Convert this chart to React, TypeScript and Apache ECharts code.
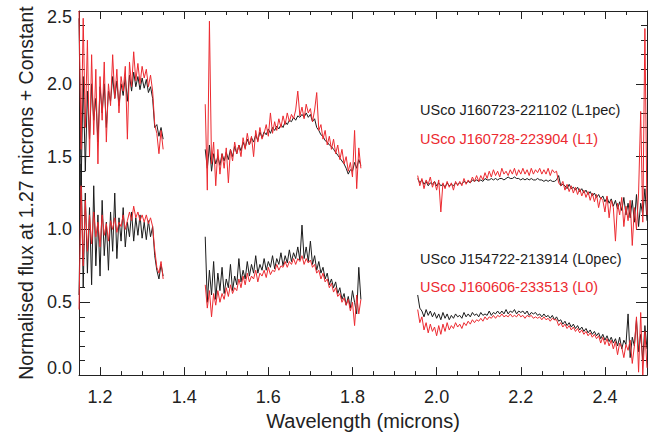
import React, { useEffect, useRef } from "react";
import * as echarts from "echarts";

// Wavelength grids (microns): each band starts at a given wavelength, sampled every STEP
const STEP = 0.005;
const J_START = 1.15;
const H_START = 1.45;
const K_START = 1.955;

const X_MAJOR_TICKS = [1.2, 1.4, 1.6, 1.8, 2.0, 2.2, 2.4];

const NAME_L1PEC = "USco J160723-221102 (L1pec)";
const NAME_L1 = "USco J160728-223904 (L1)";
const NAME_L0PEC = "USco J154722-213914 (L0pec)";
const NAME_L0 = "USco J160606-233513 (L0)";

// Upper pair: L1pec (black), L1 (red)
const l1pecJ = [2.45, 1.30, 2.05, 1.40, 1.95, 1.62, 2.00, 1.75, 1.90, 1.60, 1.98, 1.80, 2.00, 1.70, 1.95, 1.88, 2.05, 1.90, 2.02, 1.85, 2.00, 1.92, 2.05, 1.88, 2.06, 1.95, 2.08, 1.98, 2.05, 1.96, 2.04, 1.97, 2.03, 1.94, 1.98, 1.90, 1.70, 1.72, 1.64, 1.70, 1.62];
const l1J = [2.50, 1.55, 2.45, 1.70, 2.30, 1.50, 2.20, 1.65, 2.10, 1.45, 2.05, 1.75, 2.15, 1.60, 2.00, 1.85, 2.20, 1.90, 2.10, 1.80, 2.05, 1.95, 2.12, 1.62, 2.15, 1.98, 2.22, 2.02, 2.14, 2.00, 2.12, 2.04, 2.10, 1.98, 2.06, 1.95, 1.72, 1.66, 1.52, 1.68, 1.55];
const l1pecH = [1.55, 1.42, 1.58, 1.40, 1.52, 1.45, 1.50, 1.44, 1.52, 1.47, 1.53, 1.48, 1.55, 1.50, 1.57, 1.52, 1.58, 1.54, 1.60, 1.56, 1.62, 1.58, 1.63, 1.60, 1.65, 1.61, 1.67, 1.63, 1.67, 1.65, 1.69, 1.66, 1.70, 1.68, 1.71, 1.69, 1.72, 1.70, 1.74, 1.72, 1.75, 1.74, 1.77, 1.75, 1.78, 1.77, 1.79, 1.77, 1.80, 1.77, 1.79, 1.74, 1.76, 1.70, 1.68, 1.65, 1.64, 1.61, 1.60, 1.58, 1.57, 1.55, 1.53, 1.51, 1.49, 1.47, 1.45, 1.42, 1.38, 1.41, 1.40, 1.46, 1.42, 1.48, 1.44];
const l1H = [1.86, 1.27, 2.43, 1.45, 1.60, 1.30, 1.55, 1.38, 1.52, 1.42, 1.56, 1.32, 1.55, 1.47, 1.60, 1.52, 1.58, 1.50, 1.63, 1.55, 1.66, 1.58, 1.64, 1.50, 1.68, 1.60, 1.70, 1.62, 1.66, 1.72, 1.64, 1.80, 1.66, 1.74, 1.68, 1.76, 1.70, 1.78, 1.72, 1.80, 1.74, 1.79, 1.76, 1.82, 1.95, 1.78, 1.84, 1.76, 1.86, 1.80, 1.83, 1.74, 1.82, 1.94, 1.68, 1.72, 1.62, 1.68, 1.58, 1.64, 1.55, 1.62, 1.52, 1.58, 1.48, 1.55, 1.45, 1.50, 1.40, 1.46, 1.36, 1.68, 1.28, 1.56, 1.42];
const l1pecK = [1.35, 1.32, 1.34, 1.31, 1.33, 1.30, 1.32, 1.31, 1.33, 1.30, 1.32, 1.30, 1.31, 1.29, 1.32, 1.30, 1.31, 1.30, 1.32, 1.31, 1.32, 1.31, 1.33, 1.32, 1.33, 1.32, 1.34, 1.33, 1.34, 1.33, 1.34, 1.33, 1.35, 1.34, 1.34, 1.35, 1.34, 1.35, 1.34, 1.35, 1.35, 1.34, 1.35, 1.36, 1.35, 1.35, 1.36, 1.35, 1.35, 1.34, 1.35, 1.34, 1.35, 1.34, 1.35, 1.34, 1.34, 1.35, 1.34, 1.34, 1.33, 1.34, 1.33, 1.34, 1.33, 1.33, 1.34, 1.37, 1.30, 1.31, 1.30, 1.28, 1.31, 1.28, 1.29, 1.27, 1.29, 1.26, 1.28, 1.25, 1.27, 1.24, 1.26, 1.23, 1.25, 1.22, 1.24, 1.21, 1.23, 1.19, 1.22, 1.18, 1.21, 1.16, 1.20, 1.14, 1.19, 1.13, 1.22, 1.10, 1.18, 1.08, 1.20, 1.05, 1.24, 1.02, 1.18, 1.10, 1.28, 1.06];
const l1K = [1.37, 1.30, 1.35, 1.28, 1.34, 1.31, 1.36, 1.29, 1.33, 1.27, 1.34, 1.12, 1.32, 1.28, 1.33, 1.29, 1.32, 1.27, 1.33, 1.30, 1.33, 1.30, 1.35, 1.31, 1.34, 1.32, 1.36, 1.33, 1.37, 1.33, 1.37, 1.34, 1.39, 1.35, 1.40, 1.36, 1.41, 1.37, 1.40, 1.36, 1.42, 1.38, 1.40, 1.37, 1.41, 1.38, 1.42, 1.37, 1.41, 1.38, 1.42, 1.38, 1.41, 1.37, 1.42, 1.38, 1.41, 1.39, 1.42, 1.38, 1.41, 1.38, 1.42, 1.37, 1.41, 1.39, 1.40, 1.32, 1.30, 1.33, 1.27, 1.31, 1.26, 1.30, 1.25, 1.29, 1.24, 1.28, 1.23, 1.27, 1.22, 1.26, 1.20, 1.25, 1.19, 1.24, 1.15, 1.22, 1.20, 1.12, 1.23, 1.08, 1.20, 1.15, 0.92, 1.18, 1.10, 1.22, 1.02, 1.16, 1.06, 1.20, 0.89, 1.15, 1.00, 1.25, 1.81, 1.05, 2.38, 1.10];

// Lower pair: L0pec (black), L0 (red)
const l0pecJ = [0.55, 1.45, 0.60, 1.25, 0.70, 1.15, 0.62, 1.30, 0.75, 1.10, 0.68, 1.20, 0.82, 1.05, 0.72, 1.12, 0.85, 1.25, 0.80, 1.08, 0.92, 1.15, 0.88, 1.05, 0.95, 1.12, 0.92, 1.08, 0.96, 1.10, 0.94, 1.05, 0.93, 1.06, 0.95, 1.02, 0.82, 0.72, 0.66, 0.76, 0.68];
const l0J = [0.45, 1.30, 0.75, 1.20, 0.85, 1.10, 0.90, 1.12, 0.95, 1.05, 0.88, 1.10, 0.96, 1.04, 0.92, 1.06, 1.00, 1.08, 0.98, 1.05, 1.02, 1.10, 1.00, 1.06, 1.12, 1.06, 1.16, 1.08, 1.12, 1.06, 1.10, 1.05, 1.10, 1.04, 1.08, 1.02, 0.86, 0.74, 0.70, 0.78, 0.66];
const l0pecH = [0.95, 0.50, 0.72, 0.55, 0.78, 0.52, 0.70, 0.58, 0.74, 0.56, 0.66, 0.60, 0.76, 0.58, 0.68, 0.62, 0.80, 0.64, 0.72, 0.66, 0.78, 0.68, 0.76, 0.70, 0.82, 0.70, 0.76, 0.72, 0.80, 0.72, 0.78, 0.74, 0.82, 0.73, 0.80, 0.76, 0.84, 0.75, 0.82, 0.77, 0.86, 0.78, 0.84, 0.80, 0.88, 0.79, 1.03, 0.80, 0.88, 0.78, 0.92, 0.76, 0.82, 0.72, 0.78, 0.70, 0.74, 0.66, 0.70, 0.62, 0.66, 0.60, 0.64, 0.56, 0.60, 0.52, 0.56, 0.48, 0.54, 0.46, 0.58, 0.50, 0.42, 0.74, 0.52];
const l0H = [0.62, 0.46, 0.58, 0.40, 0.56, 0.48, 0.58, 0.50, 0.56, 0.52, 0.60, 0.54, 0.62, 0.56, 0.60, 0.58, 0.66, 0.60, 0.68, 0.62, 0.70, 0.64, 0.68, 0.66, 0.72, 0.64, 0.70, 0.68, 0.72, 0.67, 0.74, 0.69, 0.72, 0.71, 0.76, 0.72, 0.75, 0.74, 0.78, 0.74, 0.78, 0.76, 0.80, 0.76, 0.80, 0.78, 0.82, 0.76, 0.80, 0.77, 0.79, 0.74, 0.76, 0.70, 0.72, 0.66, 0.70, 0.64, 0.66, 0.60, 0.63, 0.57, 0.60, 0.54, 0.56, 0.50, 0.53, 0.48, 0.52, 0.44, 0.50, 0.34, 0.55, 0.42, 0.52];
const l0pecK = [0.55, 0.46, 0.44, 0.40, 0.45, 0.41, 0.44, 0.40, 0.43, 0.39, 0.42, 0.38, 0.43, 0.39, 0.42, 0.38, 0.41, 0.39, 0.42, 0.40, 0.41, 0.39, 0.43, 0.40, 0.42, 0.40, 0.43, 0.41, 0.42, 0.40, 0.43, 0.41, 0.42, 0.41, 0.44, 0.41, 0.43, 0.42, 0.44, 0.42, 0.44, 0.42, 0.45, 0.42, 0.44, 0.43, 0.45, 0.42, 0.44, 0.43, 0.44, 0.42, 0.44, 0.41, 0.43, 0.42, 0.43, 0.41, 0.42, 0.40, 0.42, 0.40, 0.41, 0.39, 0.41, 0.38, 0.40, 0.37, 0.38, 0.35, 0.37, 0.34, 0.36, 0.33, 0.35, 0.32, 0.34, 0.31, 0.33, 0.30, 0.32, 0.29, 0.31, 0.28, 0.30, 0.27, 0.29, 0.25, 0.28, 0.24, 0.27, 0.23, 0.26, 0.22, 0.25, 0.20, 0.26, 0.18, 0.24, 0.21, 0.42, 0.12, 0.26, 0.20, 0.38, 0.16, 0.28, 0.10, 0.34, 0.18];
const l0K = [0.45, 0.36, 0.40, 0.31, 0.36, 0.29, 0.35, 0.30, 0.33, 0.27, 0.34, 0.28, 0.35, 0.30, 0.36, 0.31, 0.34, 0.32, 0.36, 0.33, 0.35, 0.32, 0.36, 0.34, 0.37, 0.35, 0.38, 0.36, 0.38, 0.37, 0.39, 0.37, 0.40, 0.38, 0.40, 0.39, 0.41, 0.39, 0.41, 0.40, 0.42, 0.40, 0.41, 0.40, 0.42, 0.40, 0.41, 0.40, 0.42, 0.40, 0.41, 0.39, 0.41, 0.40, 0.41, 0.39, 0.40, 0.39, 0.40, 0.38, 0.40, 0.38, 0.39, 0.37, 0.39, 0.38, 0.38, 0.34, 0.36, 0.33, 0.35, 0.32, 0.34, 0.31, 0.33, 0.30, 0.32, 0.29, 0.31, 0.28, 0.30, 0.27, 0.29, 0.26, 0.28, 0.25, 0.27, 0.22, 0.26, 0.21, 0.25, 0.20, 0.24, 0.18, 0.23, 0.14, 0.22, 0.19, 0.12, 0.21, 0.17, 0.24, 0.08, 0.20, 0.40, 0.02, 0.43, 0.00, 0.30, 0.05];

const BLACK = "#1c1c1c";
const RED = "#ec2a30";
const FONT = "'Liberation Sans', Arial, Helvetica, sans-serif";

function pairs(start: number, values: number[]) {
  return values.map((v, i) => [Number((start + i * STEP).toFixed(4)), v]);
}

function bandSeries(name: string, color: string, bands: [number, number[]][]) {
  return bands.map(([start, vals]) => ({
    name,
    type: "line",
    data: pairs(start, vals),
    showSymbol: false,
    symbol: "none",
    lineStyle: { color, width: 1 },
    clip: true,
    z: color === RED ? 3 : 2,
  }));
}

export default function App() {
  const ref = useRef<HTMLDivElement>(null);
  useEffect(() => {
    if (!ref.current) return;
    const chart = echarts.init(ref.current, null, { renderer: "svg" });
    const axisColor = "#222";
    const minorX: number[] = [];
    for (let k = 0; k <= 27; k++) {
      minorX.push(Number((1.15 + k * 0.05).toFixed(2)));
    }
    const baseX = {
      type: "value",
      min: 1.15,
      max: 2.5,
      splitLine: { show: false },
    };
    const option: any = {
      animation: false,
      backgroundColor: "#fff",
      grid: { left: 79, right: 9, top: 11, bottom: 55, containLabel: false },
      xAxis: [
        {
          ...baseX,
          position: "bottom",
          axisLine: { show: true, onZero: false, lineStyle: { color: axisColor, width: 1 } },
          axisTick: { show: true, inside: true, length: 8, customValues: X_MAJOR_TICKS, lineStyle: { color: axisColor } },
          axisLabel: {
            show: true,
            customValues: X_MAJOR_TICKS,
            margin: 13,
            fontSize: 18,
            fontFamily: FONT,
            color: axisColor,
            formatter: (v: number) => v.toFixed(1),
          },
          name: "Wavelength (microns)",
          nameLocation: "middle",
          nameGap: 31,
          nameTextStyle: { fontSize: 20, fontFamily: FONT, color: axisColor },
        },
        {
          ...baseX,
          position: "bottom",
          axisLine: { show: false, onZero: false },
          axisTick: { show: true, inside: true, length: 4, customValues: minorX, lineStyle: { color: axisColor } },
          axisLabel: { show: false },
        },
        {
          ...baseX,
          position: "top",
          axisLine: { show: true, onZero: false, lineStyle: { color: axisColor, width: 1 } },
          axisTick: { show: true, inside: true, length: 8, customValues: X_MAJOR_TICKS, lineStyle: { color: axisColor } },
          axisLabel: { show: false },
        },
        {
          ...baseX,
          position: "top",
          axisLine: { show: false, onZero: false },
          axisTick: { show: true, inside: true, length: 4, customValues: minorX, lineStyle: { color: axisColor } },
          axisLabel: { show: false },
        },
      ],
      yAxis: [
        {
          type: "value",
          position: "left",
          min: 0,
          max: 2.5,
          interval: 0.5,
          splitLine: { show: false },
          axisLine: { show: true, onZero: false, lineStyle: { color: axisColor, width: 1 } },
          axisTick: { show: true, inside: true, length: 11, lineStyle: { color: axisColor } },
          minorTick: { show: true, splitNumber: 5, length: 6, lineStyle: { color: axisColor } },
          minorSplitLine: { show: false },
          axisLabel: {
            show: true,
            margin: 7,
            fontSize: 18,
            fontFamily: FONT,
            color: axisColor,
            formatter: (v: number) => {
              const s = v.toFixed(1);
              if (v === 0) return `{lo|${s}}`;
              if (v === 2.5) return `{hi|${s}}`;
              return s;
            },
            rich: {
              lo: { fontSize: 18, fontFamily: FONT, color: axisColor, padding: [0, 0, 14, 0] },
              hi: { fontSize: 18, fontFamily: FONT, color: axisColor, padding: [12, 0, 0, 0] },
            },
          },
          name: "Normalised flux at 1.27 microns + Constant",
          nameLocation: "middle",
          nameGap: 36,
          nameTextStyle: { fontSize: 19.5, fontFamily: FONT, color: axisColor },
        },
        {
          type: "value",
          position: "right",
          min: 0,
          max: 2.5,
          interval: 0.5,
          splitLine: { show: false },
          axisLine: { show: true, onZero: false, lineStyle: { color: axisColor, width: 1 } },
          axisTick: { show: true, inside: true, length: 11, lineStyle: { color: axisColor } },
          minorTick: { show: true, splitNumber: 5, length: 6, lineStyle: { color: axisColor } },
          axisLabel: { show: false },
        },
      ],
      graphic: [
        { type: "text", x: 420, y: 110, style: { text: NAME_L1PEC, fill: BLACK, font: `14.5px ${FONT}`, textVerticalAlign: "middle", verticalAlign: "middle" } },
        { type: "text", x: 420, y: 139, style: { text: NAME_L1, fill: RED, font: `14.5px ${FONT}`, textVerticalAlign: "middle", verticalAlign: "middle" } },
        { type: "text", x: 420, y: 259, style: { text: NAME_L0PEC, fill: BLACK, font: `14.5px ${FONT}`, textVerticalAlign: "middle", verticalAlign: "middle" } },
        { type: "text", x: 420, y: 287, style: { text: NAME_L0, fill: RED, font: `14.5px ${FONT}`, textVerticalAlign: "middle", verticalAlign: "middle" } },
      ],
      series: [
        ...bandSeries(NAME_L1PEC, BLACK, [[J_START, l1pecJ], [H_START, l1pecH], [K_START, l1pecK]]),
        ...bandSeries(NAME_L0PEC, BLACK, [[J_START, l0pecJ], [H_START, l0pecH], [K_START, l0pecK]]),
        ...bandSeries(NAME_L1, RED, [[J_START, l1J], [H_START, l1H], [K_START, l1K]]),
        ...bandSeries(NAME_L0, RED, [[J_START, l0J], [H_START, l0H], [K_START, l0K]]),
      ],
    };
    chart.setOption(option);
    return () => chart.dispose();
  }, []);
  return (
    <div
      ref={ref}
      style={{ position: "fixed", left: 0, top: 0, width: 656, height: 436, background: "#fff" }}
    />
  );
}
